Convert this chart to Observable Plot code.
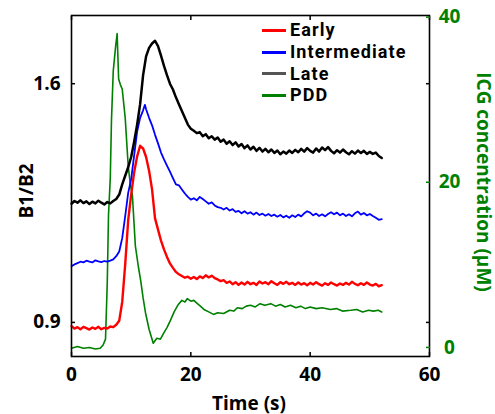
<!DOCTYPE html>
<html>
<head>
<meta charset="utf-8">
<script src="https://cdn.jsdelivr.net/npm/d3@7"></script>
<script src="https://cdn.jsdelivr.net/npm/@observablehq/plot@0.6"></script>
<style>
  html, body { margin: 0; padding: 0; background: #fff; }
  #wrap { position: relative; width: 495px; height: 414px; font-family: "Open Sans", sans-serif; font-weight: 700; }
  #wrap svg { position: absolute; left: 0; top: 0; }
  .lbl { position: absolute; font-size: 19px; font-weight: 700; white-space: nowrap; line-height: 1; }
  #legend { position: absolute; left: 262px; top: 19.7px; }
  .row { display: flex; align-items: center; height: 21.6px; font-family: Roboto, sans-serif; font-size: 18px; font-weight: 700; color: #000; line-height: 1; letter-spacing: 1.1px; }
  .row span { line-height: 1; display: block; }
  .sw { width: 24px; height: 3px; margin-right: 4px; }
</style>
</head>
<body>
<div id="wrap"></div>
<script>
// ---- Data ----
const seriesNames = ["Early", "Intermediate", "Late", "PDD"];
const seriesColors = ["#ff0000", "#0000ff", "#000000", "#008000"];
const legendSwatchColors = ["#ff0000", "#0000ff", "#555555", "#008000"];

const xTicks = [0, 20, 40, 60];
const leftTicks = [0.9, 1.6];
const rightTicks = [0, 20, 40];

// Early (B1/B2), 0.5 s steps from 0 to 52 s
const earlyT = [0,0.5,1,1.5,2,2.5,3,3.5,4,4.5,5,5.5,6,6.5,7,7.5,8,8.5,9,9.5,10,10.5,11,11.5,12,12.5,13,13.5,14,14.5,15,15.5,16,16.5,17,17.5,18,18.5,19,19.5,20,20.5,21,21.5,22,22.5,23,23.5,24,24.5,25,25.5,26,26.5,27,27.5,28,28.5,29,29.5,30,30.5,31,31.5,32,32.5,33,33.5,34,34.5,35,35.5,36,36.5,37,37.5,38,38.5,39,39.5,40,40.5,41,41.5,42,42.5,43,43.5,44,44.5,45,45.5,46,46.5,47,47.5,48,48.5,49,49.5,50,50.5,51,51.5,52];
const earlyV = [0.889,0.882,0.886,0.880,0.887,0.883,0.879,0.885,0.881,0.887,0.880,0.884,0.882,0.888,0.886,0.893,0.905,0.960,1.070,1.200,1.275,1.340,1.387,1.418,1.410,1.385,1.345,1.290,1.205,1.172,1.140,1.114,1.092,1.073,1.060,1.048,1.041,1.036,1.031,1.034,1.028,1.033,1.027,1.035,1.030,1.038,1.032,1.037,1.030,1.026,1.021,1.024,1.016,1.020,1.012,1.018,1.010,1.017,1.011,1.019,1.012,1.016,1.010,1.020,1.014,1.018,1.012,1.021,1.015,1.010,1.018,1.013,1.019,1.012,1.016,1.010,1.017,1.011,1.015,1.009,1.016,1.011,1.018,1.012,1.008,1.015,1.010,1.017,1.012,1.008,1.014,1.010,1.016,1.011,1.019,1.013,1.009,1.015,1.010,1.017,1.011,1.008,1.013,1.006,1.009];

// Intermediate (B1/B2)
const interT = [0,0.5,1,1.5,2,2.5,3,3.5,4,4.5,5,5.5,6,6.5,7,7.5,8,8.5,9,9.5,10,10.5,11,11.5,12,12.3,12.5,13,13.5,14,14.5,15,15.5,16,16.5,17,17.5,18,18.5,19,19.5,20,20.5,21,21.5,22,22.5,23,23.5,24,24.5,25,25.5,26,26.5,27,27.5,28,28.5,29,29.5,30,30.5,31,31.5,32,32.5,33,33.5,34,34.5,35,35.5,36,36.5,37,37.5,38,38.5,39,39.5,40,40.5,41,41.5,42,42.5,43,43.5,44,44.5,45,45.5,46,46.5,47,47.5,48,48.5,49,49.5,50,50.5,51,51.5,52];
const interV = [1.065,1.070,1.074,1.078,1.076,1.081,1.078,1.076,1.082,1.079,1.077,1.080,1.078,1.081,1.085,1.094,1.108,1.147,1.212,1.280,1.320,1.390,1.460,1.500,1.522,1.538,1.525,1.500,1.478,1.450,1.425,1.398,1.378,1.360,1.342,1.323,1.305,1.302,1.290,1.278,1.268,1.260,1.264,1.258,1.268,1.262,1.255,1.248,1.252,1.243,1.238,1.236,1.231,1.236,1.228,1.232,1.224,1.227,1.220,1.226,1.219,1.223,1.216,1.222,1.215,1.219,1.213,1.218,1.212,1.216,1.210,1.215,1.208,1.213,1.207,1.214,1.209,1.216,1.211,1.220,1.226,1.222,1.214,1.219,1.212,1.217,1.211,1.218,1.223,1.217,1.222,1.214,1.219,1.212,1.217,1.211,1.220,1.225,1.216,1.221,1.214,1.218,1.212,1.207,1.201,1.203];

// Late (B1/B2)
const lateT = earlyT;
const lateV = [1.248,1.256,1.251,1.258,1.250,1.255,1.247,1.254,1.249,1.257,1.251,1.246,1.253,1.249,1.256,1.262,1.275,1.305,1.330,1.355,1.385,1.430,1.480,1.540,1.625,1.680,1.705,1.718,1.726,1.710,1.682,1.652,1.625,1.600,1.583,1.560,1.540,1.520,1.500,1.480,1.468,1.462,1.455,1.458,1.446,1.452,1.440,1.446,1.436,1.442,1.430,1.436,1.424,1.431,1.420,1.428,1.416,1.423,1.411,1.419,1.407,1.415,1.403,1.412,1.401,1.409,1.399,1.407,1.397,1.404,1.393,1.401,1.395,1.404,1.397,1.406,1.399,1.409,1.401,1.411,1.403,1.398,1.410,1.401,1.413,1.405,1.414,1.403,1.396,1.405,1.398,1.407,1.399,1.393,1.402,1.395,1.404,1.397,1.403,1.394,1.400,1.394,1.398,1.388,1.382];

// PDD (ICG concentration, µM, right axis)
const pddT = [0,1,2,3,4,4.8,5.3,5.7,6.0,6.2,6.5,6.7,7.0,7.4,7.65,7.9,8.2,8.5,9.0,9.5,9.9,10.2,10.7,11.2,11.6,12.0,12.4,13.0,13.7,14.3,14.9,15.5,16.0,16.6,17.2,17.9,18.5,19.0,19.4,20.0,20.5,21.1,21.6,22.2,23.0,23.8,24.5,25.5,26.5,27.2,27.8,28.6,29.3,30.0,30.8,31.6,32.4,33.4,34.2,35.0,35.8,36.7,37.6,38.4,39.2,40.0,41.0,42.0,43.4,44.4,45.4,46.8,47.8,48.8,49.8,50.6,51.4,52.0];
const pddV = [-0.1,0.1,-0.1,0.0,-0.2,-0.1,0.3,1.0,8.0,16.0,20.5,27.5,33.5,36.5,38.0,32.5,31.8,31.3,27.8,22.0,19.5,18.5,12.3,9.8,8.1,6.0,4.2,2.2,0.5,1.1,1.0,1.8,2.4,3.3,4.3,5.2,5.7,5.5,5.9,5.6,5.7,5.3,5.0,4.6,4.3,4.0,4.2,4.1,4.5,4.4,4.8,4.7,5.0,5.1,4.9,5.3,5.1,5.3,5.0,5.2,4.9,5.1,4.8,5.0,4.7,4.9,4.7,4.8,4.6,4.7,4.4,4.5,4.6,4.3,4.5,4.4,4.5,4.3];

// ---- Scales ----
const leftDomain = [0.8, 1.8];
const rightDomain = [-1.1, 40.2];
const toLeft = d3.scaleLinear().domain(rightDomain).range(leftDomain);

const rows = [];
const add = (name, ts, vs, conv) => ts.forEach((t, i) => rows.push({series: name, t, v: conv ? toLeft(vs[i]) : vs[i]}));
add("Early", earlyT, earlyV, false);
add("Intermediate", interT, interV, false);
add("Late", lateT, lateV, false);
add("PDD", pddT, pddV, true);

const fontSize = 19;
const plot = Plot.plot({
  width: 495,
  height: 414,
  marginLeft: 71,
  marginRight: 66,
  marginTop: 15,
  marginBottom: 58,
  style: {fontFamily: "'Open Sans', sans-serif", fontWeight: 700, fontSize: fontSize + "px", background: "transparent", color: "#000"},
  x: {domain: [0, 60]},
  y: {domain: leftDomain},
  color: {domain: seriesNames, range: seriesColors},
  marks: [
    Plot.lineY(rows.filter(d => d.series === "PDD"), {x: "t", y: "v", stroke: "series", strokeWidth: 1.6}),
    Plot.lineY(rows.filter(d => d.series === "Early"), {x: "t", y: "v", stroke: "series", strokeWidth: 2.4}),
    Plot.lineY(rows.filter(d => d.series === "Intermediate"), {x: "t", y: "v", stroke: "series", strokeWidth: 1.8}),
    Plot.lineY(rows.filter(d => d.series === "Late"), {x: "t", y: "v", stroke: "series", strokeWidth: 2.5}),
    Plot.frame({stroke: "#000", strokeWidth: 1.6}),
    // bottom axis labels + inward ticks
    Plot.axisX({anchor: "bottom", ticks: xTicks, tickSize: 0, tickPadding: 11, label: null, fontSize: fontSize, fill: "#000"}),
    Plot.axisX({anchor: "bottom", ticks: xTicks, tickSize: -4, tickFormat: () => "", label: null, strokeWidth: 1.5}),
    Plot.axisX({anchor: "top", ticks: xTicks, tickSize: -4, tickFormat: () => "", label: null, strokeWidth: 1.5}),
    // left axis
    Plot.axisY({anchor: "left", ticks: leftTicks, tickSize: 0, tickPadding: 11, tickFormat: d => d.toFixed(1), label: null, fontSize: fontSize, fill: "#000"}),
    Plot.axisY({anchor: "left", ticks: leftTicks, tickSize: -4, tickFormat: () => "", label: null, strokeWidth: 1.5}),
    Plot.axisY({anchor: "right", ticks: leftTicks, tickSize: -4, tickFormat: () => "", label: null, strokeWidth: 1.5}),
    // right axis (ICG)
    Plot.axisY({anchor: "right", ticks: rightTicks.map(v => toLeft(v)), tickSize: 0, tickPadding: 20, textAnchor: "middle",
      tickFormat: v => String(Math.round(toLeft.invert(v))), label: null, fontSize: fontSize, fill: "#008000"}),
    Plot.axisY({anchor: "right", ticks: rightTicks.map(v => toLeft(v)), tickSize: -4, tickFormat: () => "", label: null, stroke: "#008000", strokeWidth: 1.5})
  ]
});

const wrap = document.getElementById("wrap");
wrap.appendChild(plot);

// axis titles
const xl = document.createElement("div");
xl.className = "lbl";
xl.textContent = "Time (s)";
xl.style.left = "249px"; xl.style.top = "403px";
xl.style.transform = "translate(-50%, -50%)";
wrap.appendChild(xl);

const yl = document.createElement("div");
yl.className = "lbl";
yl.textContent = "B1/B2";
yl.style.left = "26px"; yl.style.top = "191px";
yl.style.transform = "translate(-50%, -50%) rotate(-90deg)";
wrap.appendChild(yl);

const yr = document.createElement("div");
yr.className = "lbl";
yr.textContent = "ICG concentration (µM)";
yr.style.color = "#008000";
yr.style.left = "483px"; yr.style.top = "182px";
yr.style.transform = "translate(-50%, -50%) rotate(90deg)";
wrap.appendChild(yr);

// legend
const lg = document.createElement("div");
lg.id = "legend";
seriesNames.forEach((n, i) => {
  const r = document.createElement("div");
  r.className = "row";
  const s = document.createElement("div");
  s.className = "sw";
  s.style.background = legendSwatchColors[i];
  const t = document.createElement("span");
  t.textContent = n;
  r.appendChild(s); r.appendChild(t);
  lg.appendChild(r);
});
wrap.appendChild(lg);
</script>
</body>
</html>
